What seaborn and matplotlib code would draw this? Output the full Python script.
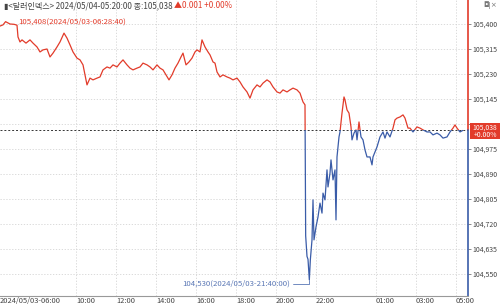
import matplotlib
matplotlib.use("Agg")
import matplotlib.pyplot as plt
import seaborn as sns
import pandas as pd
import numpy as np
from matplotlib.patches import Rectangle
from matplotlib.ticker import FixedLocator, FuncFormatter

# ---------------- data ----------------
times = ["06:12", "06:21", "06:28:40", "06:42", "06:54", "07:03", "07:06", "07:12", "07:18", "07:30",
         "07:42", "07:51", "08:03", "08:12", "08:21", "08:33", "08:42", "08:51", "09:03", "09:12",
         "09:24", "09:33", "09:42", "09:51", "10:03", "10:12", "10:21", "10:33", "10:42", "10:51",
         "11:03", "11:12", "11:21", "11:33", "11:42", "11:51", "12:03", "12:12", "12:21", "12:33",
         "12:42", "12:51", "13:03", "13:12", "13:21", "13:33", "13:42", "13:51", "14:03", "14:12",
         "14:21", "14:30", "14:39", "14:48", "14:57", "15:06", "15:15", "15:21", "15:30", "15:39",
         "15:48", "15:57", "16:03", "16:12", "16:18", "16:27", "16:36", "16:42", "16:51", "16:57",
         "17:03", "17:12", "17:21", "17:33", "17:42", "17:51", "18:03", "18:12", "18:21", "18:33",
         "18:42", "18:51", "19:03", "19:12", "19:21", "19:33", "19:42", "19:51", "20:03", "20:12",
         "20:21", "20:33", "20:42", "20:51", "21:03", "21:12", "21:21", "21:27", "21:29", "21:33",
         "21:36", "21:40", "21:43", "21:48", "21:51", "21:54", "22:00", "22:06", "22:12", "22:18",
         "22:21", "22:27", "22:33", "22:36", "22:42", "22:45", "22:51", "22:57", "23:00", "23:03",
         "23:09", "23:12", "23:18", "23:24", "23:27", "23:33", "23:39", "23:45", "23:48", "23:54",
         "00:00", "00:03", "00:09", "00:15", "00:21", "00:27", "00:33", "00:42", "00:48", "00:51",
         "01:03", "01:12", "01:21", "01:27", "01:33", "01:42", "01:51", "01:57", "02:03", "02:12",
         "02:21", "02:27", "02:36", "02:42", "02:51", "03:03", "03:12", "03:21", "03:33", "03:42",
         "03:51", "04:03", "04:12", "04:21", "04:33", "04:42", "04:51", "04:57", "05:03", "05:12",
         "05:20"]
values = [105.393, 105.397, 105.408, 105.400, 105.399, 105.396, 105.356, 105.339, 105.346, 105.335,
          105.346, 105.335, 105.322, 105.305, 105.312, 105.315, 105.288, 105.301, 105.322, 105.339,
          105.369, 105.352, 105.329, 105.305, 105.284, 105.278, 105.261, 105.193, 105.216, 105.210,
          105.216, 105.220, 105.244, 105.254, 105.250, 105.261, 105.254, 105.267, 105.278, 105.261,
          105.250, 105.244, 105.250, 105.254, 105.267, 105.261, 105.254, 105.244, 105.261, 105.250,
          105.244, 105.227, 105.210, 105.227, 105.250, 105.267, 105.288, 105.301, 105.261, 105.271,
          105.284, 105.305, 105.312, 105.305, 105.346, 105.322, 105.305, 105.295, 105.271, 105.267,
          105.237, 105.220, 105.227, 105.220, 105.216, 105.210, 105.216, 105.203, 105.186, 105.169,
          105.148, 105.176, 105.193, 105.186, 105.199, 105.210, 105.203, 105.186, 105.169, 105.165,
          105.176, 105.169, 105.176, 105.182, 105.176, 105.165, 105.135, 105.125, 104.680, 104.610,
          104.600, 104.530, 104.598, 104.666, 104.802, 104.666, 104.710, 104.744, 104.791, 104.757,
          104.825, 104.802, 104.904, 104.846, 104.893, 104.938, 104.870, 104.904, 104.734, 104.948,
          105.016, 105.033, 105.097, 105.152, 105.142, 105.108, 105.097, 105.050, 105.006, 105.029,
          105.040, 105.006, 105.067, 105.016, 105.006, 104.972, 104.948, 104.948, 104.921, 104.948,
          104.982, 105.016, 105.033, 105.012, 105.033, 105.016, 105.046, 105.074, 105.080, 105.084,
          105.091, 105.080, 105.046, 105.046, 105.033, 105.050, 105.046, 105.040, 105.033, 105.033,
          105.023, 105.029, 105.023, 105.012, 105.016, 105.033, 105.046, 105.057, 105.046, 105.033,
          105.038]
ref_value = 105.038
y_ticks = [104.550, 104.635, 104.720, 104.805, 104.890, 104.975, 105.060, 105.145, 105.230, 105.315, 105.400]
hidden_y_tick = 105.060   # covered by the price box in the reference
x_tick_labels = ["10:00", "12:00", "14:00", "16:00", "18:00", "20:00", "22:00", "01:00", "03:00", "05:00"]
first_label = "2024/05/03-06:00"
title_main = "▮<달러인덱스> 2024/05/04-05:20:00 종:105,038 "
title_change = "▲0.001 +0.00%"
max_label = "105,408(2024/05/03-06:28:40)"
min_label = "104,530(2024/05/03-21:40:00)"
box_lines = ["105,038", "+0.00%"]

# parse times with day rollover
day = pd.Timestamp("2024-05-03")
stamps = []
prev = None
for t in times:
    ts = pd.Timestamp(f"{day.date()} {t}")
    if prev is not None and ts < prev:
        day = day + pd.Timedelta(days=1)
        ts = pd.Timestamp(f"{day.date()} {t}")
    stamps.append(ts)
    prev = ts
df = pd.DataFrame({"t": stamps, "v": values})

def tick_ts(lbl):
    h = int(lbl[:2])
    d = "2024-05-03" if h >= 6 else "2024-05-04"
    return pd.Timestamp(f"{d} {lbl}")

xt = [tick_ts(l) for l in x_tick_labels]

# ---------------- style ----------------
sns.set_theme(style="white")
FAM = ["Liberation Sans Narrow", "Noto Sans CJK KR", "DejaVu Sans"]
plt.rcParams["font.family"] = FAM
RED = "#e23b2a"
BLUE = "#3a5ca8"
GRID = "#d4d4d4"
TXT = "#444444"

fig = plt.figure(figsize=(5.0, 3.06), dpi=100)
fig.patch.set_facecolor("white")
ax = fig.add_axes([0, 10 / 306, 468 / 500, 296 / 306])
ax.set_facecolor("white")

xlo = pd.Timestamp("2024-05-03 06:12")
xhi = pd.Timestamp("2024-05-04 05:36")
ylo, yhi = 104.4752, 105.4816

# line red (above ref) and blue (below ref)
sns.lineplot(data=df, x="t", y="v", color=RED, lw=0.9, ax=ax)
sns.lineplot(data=df, x="t", y="v", color=BLUE, lw=0.9, ax=ax)
l_red, l_blue = ax.lines[-2], ax.lines[-1]
clip_up = Rectangle((0, ref_value), 1, 10, transform=ax.get_yaxis_transform(), visible=False)
clip_dn = Rectangle((0, ref_value - 10), 1, 10, transform=ax.get_yaxis_transform(), visible=False)
ax.add_patch(clip_up)
ax.add_patch(clip_dn)
l_red.set_clip_path(clip_up)
l_blue.set_clip_path(clip_dn)

ax.axhline(ref_value, color="#333333", lw=0.7, ls=(0, (2, 2)), zorder=1)

ax.set_xlim(xlo, xhi)
ax.set_ylim(ylo, yhi)

# grid
for t in xt:
    ax.axvline(t, color=GRID, lw=0.6, ls=(0, (1.5, 2)), zorder=0)
for y in y_ticks:
    ax.axhline(y, color=GRID, lw=0.6, ls=(0, (1.5, 2)), zorder=0)

# axes
for s in ["top", "left", "right"]:
    ax.spines[s].set_visible(False)
ax.spines["bottom"].set_color("#999999")
ax.spines["bottom"].set_linewidth(0.8)

ax.xaxis.set_major_locator(FixedLocator([matplotlib.dates.date2num(t) for t in xt]))
ax.set_xticklabels(x_tick_labels)
ax.tick_params(axis="x", direction="out", length=3, width=0.6, color="#999999",
               labelsize=5.4, labelcolor=TXT, pad=-2.2)
for lab in ax.get_xticklabels():
    lab.set_horizontalalignment("left")
ax.text(0.0, -0.004, first_label, transform=ax.transAxes, ha="left", va="top",
        fontsize=5.4, color=TXT)
ax.set_xlabel("")
ax.set_ylabel("")

ax.yaxis.tick_right()
ax.yaxis.set_major_locator(FixedLocator(y_ticks))
ax.yaxis.set_major_formatter(FuncFormatter(
    lambda v, p: "" if abs(v - hidden_y_tick) < 1e-6 else f"{v:,.3f}".replace(".", ",")))
ax.tick_params(axis="y", direction="out", length=2.0, width=0.6, color="#777777",
               labelsize=5.0, labelcolor=TXT, pad=1.0)

# right axis line split red/blue
ax.plot([1, 1], [ref_value, yhi], transform=ax.get_yaxis_transform(), color=RED, lw=1.2, clip_on=False)
ax.plot([1, 1], [ylo, ref_value], transform=ax.get_yaxis_transform(), color=BLUE, lw=1.2, clip_on=False)

# annotations
imax = int(np.argmax(values))
imin = int(np.argmin(values))
ax.annotate(max_label, xy=(df.t[imax], df.v[imax]), xytext=(9, 0), textcoords="offset points",
            ha="left", va="center", fontsize=5.6, color=RED)
ax.annotate(min_label, xy=(df.t[imin], df.v[imin]), xytext=(-14, -3), textcoords="offset points",
            ha="right", va="center", fontsize=5.6, color="#5a77b5",
            arrowprops=dict(arrowstyle="-", color="#5a77b5", lw=0.6,
                            connectionstyle="angle,angleA=0,angleB=90,rad=0",
                            shrinkA=0, shrinkB=0))

# title
fig.canvas.draw()
t1 = fig.text(4 / 500, 1 - 6 / 306, title_main, ha="left", va="center", fontsize=5.8, color=TXT)
fig.canvas.draw()
bb = t1.get_window_extent(fig.canvas.get_renderer())
x2 = bb.x1 / fig.bbox.width
fig.text(x2, 1 - 6 / 306, title_change, ha="left", va="center", fontsize=5.8, color=RED)

# top-right icons
fig.text(497 / 500, 1 - 5 / 306, "◘|×", ha="right", va="center", fontsize=5, color="#777777",
         family=["DejaVu Sans"])

# price box
box = Rectangle((470 / 500, 1 - 139 / 306), 30 / 500, 16 / 306, transform=fig.transFigure,
                facecolor=RED, edgecolor="none", zorder=5)
fig.add_artist(box)
fig.text(485 / 500, 1 - 127.3 / 306, box_lines[0], ha="center", va="center", fontsize=4.9,
         color="white", zorder=6)
fig.text(485 / 500, 1 - 134.7 / 306, box_lines[1], ha="center", va="center", fontsize=4.9,
         color="white", zorder=6)

fig.savefig("out.png", dpi=100)
